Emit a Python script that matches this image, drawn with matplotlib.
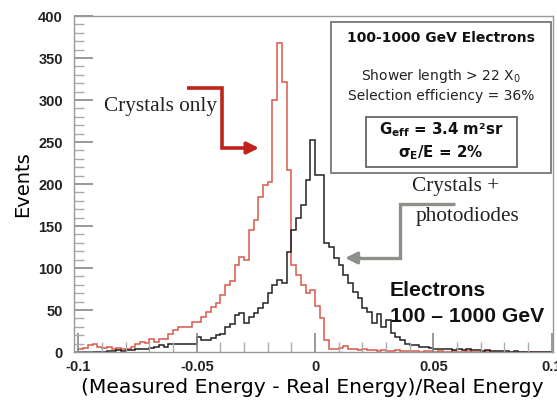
import numpy as np
import matplotlib
matplotlib.use("Agg")
import matplotlib.pyplot as plt
from matplotlib.patches import Rectangle
from matplotlib.ticker import MultipleLocator, FixedLocator

# ---- data ----
bin_edges = np.linspace(-0.1, 0.1, 101)

crystals_only = [
    3, 5, 8, 10, 6, 5, 6, 4, 5, 3,
    4, 6, 9, 12, 11, 15, 12, 16, 15, 22,
    26, 30, 30, 30, 36, 36, 42, 48, 54, 58,
    68, 80, 85, 104, 113, 110, 145, 157, 185, 199,
    202, 300, 368, 321, 217, 104, 92, 80, 70, 74,
    55, 40, 14, 4, 3, 5, 7, 4, 3, 2,
    3, 2, 2, 1, 2, 1, 1, 2, 1, 1,
    1, 1, 0, 1, 1, 0, 1, 0, 0, 1,
    0, 0, 1, 0, 0, 0, 1, 0, 0, 0,
    0, 0, 0, 0, 0, 0, 0, 0, 0, 0,
]

crystals_photodiodes = [
    0, 0, 0, 0, 0, 0, 1, 1, 2, 1,
    2, 2, 3, 4, 4, 5, 6, 8, 6, 10,
    10, 10, 10, 10, 10, 18, 14, 14, 17, 20,
    22, 30, 33, 44, 46, 35, 42, 46, 52, 58,
    70, 80, 86, 82, 119, 145, 160, 175, 205, 252,
    211, 211, 130, 125, 112, 104, 92, 82, 71, 64,
    52, 48, 35, 45, 30, 38, 23, 18, 14, 10,
    8, 8, 6, 6, 5, 4, 3, 3, 4, 2,
    3, 2, 3, 2, 2, 1, 2, 1, 1, 1,
    1, 0, 1, 0, 0, 0, 0, 0, 0, 0,
]

y_ticks = [0, 50, 100, 150, 200, 250, 300, 350, 400]
x_ticks = [-0.1, -0.05, 0, 0.05, 0.1]
x_tick_labels = ["-0.1", "-0.05", "0", "0.05", "0.1"]

# ---- figure ----
fig = plt.figure(figsize=(5.57, 4.03), dpi=100)
L, R, B, T = 74, 553, 352, 16
W, H = 557, 403
ax = fig.add_axes([L / W, 1 - B / H, (R - L) / W, (B - T) / H])

red = "#d8584c"
black = "#222222"
ax.stairs(crystals_only, bin_edges, color=red, linewidth=1.1)
ax.stairs(crystals_photodiodes, bin_edges, color=black, linewidth=1.1)

ax.set_xlim(-0.1019, 0.1006)
ax.set_ylim(0, 400)

for s in ax.spines.values():
    s.set_color("#999999")
    s.set_linewidth(1.0)

ax.yaxis.set_major_locator(FixedLocator(y_ticks))
ax.yaxis.set_minor_locator(MultipleLocator(10))
ax.xaxis.set_major_locator(FixedLocator(x_ticks))
ax.xaxis.set_minor_locator(MultipleLocator(0.01))
ax.set_xticklabels(x_tick_labels)
ax.tick_params(which="major", direction="in", length=14, width=1.2, color="#888888",
               labelsize=10.5, pad=6)
ax.tick_params(axis="y", which="major", pad=8)
ax.tick_params(which="minor", direction="in", length=7, width=1.0, color="#aaaaaa")
for lab in ax.get_xticklabels() + ax.get_yticklabels():
    lab.set_fontweight("bold")
    lab.set_family("Liberation Sans")
    lab.set_color("#222222")

ax.set_ylabel("Events", fontsize=14, family="DejaVu Sans")
ax.yaxis.set_label_coords(-0.088, 0.5)
ax.set_xlabel("(Measured Energy - Real Energy)/Real Energy", fontsize=14.6,
              family="DejaVu Sans")
ax.xaxis.set_label_coords(0.497, -0.078)

# ---- annotations ----
def dx(px):
    return (px - 315) / 2365.0

def dy(py):
    return (352 - py) / 0.84

# red arrow
ax.plot([dx(187), dx(222), dx(222), dx(250)], [dy(88), dy(88), dy(148), dy(148)],
        color="#c0231c", linewidth=2.6, solid_capstyle="butt", solid_joinstyle="miter")
ax.annotate("", xy=(dx(259), dy(148)), xytext=(dx(246), dy(148)),
            arrowprops=dict(arrowstyle="-|>,head_length=0.7,head_width=0.35",
                            color="#c0231c", linewidth=2.6, shrinkA=0, shrinkB=0))
ax.text(dx(160), dy(106), "Crystals only", family="Liberation Serif", fontsize=15.3,
        ha="center", va="center", color="#222222")

# gray arrow
gray = "#8c928a"
ax.plot([dx(455), dx(400), dx(400), dx(356)], [dy(204), dy(204), dy(258), dy(258)],
        color=gray, linewidth=2.4, solid_capstyle="butt", solid_joinstyle="miter")
ax.annotate("", xy=(dx(345), dy(258)), xytext=(dx(360), dy(258)),
            arrowprops=dict(arrowstyle="-|>,head_length=0.7,head_width=0.35",
                            color=gray, linewidth=2.4, shrinkA=0, shrinkB=0))
ax.text(dx(455), dy(186), "Crystals +", family="Liberation Serif", fontsize=15.3,
        ha="center", va="center", color="#222222")
ax.text(dx(467), dy(216), "photodiodes", family="Liberation Serif", fontsize=15.3,
        ha="center", va="center", color="#222222")

ax.text(dx(390), dy(291), "Electrons", family="Liberation Sans", fontweight="bold",
        fontsize=15.2, ha="left", va="center", color="#111111")
ax.text(dx(390), dy(316), "100 \u2013 1000 GeV", family="Liberation Sans", fontweight="bold",
        fontsize=15.2, ha="left", va="center", color="#111111")

# info box
ax.add_patch(Rectangle((dx(331), dy(173)), dx(551) - dx(331), dy(22) - dy(173),
                       facecolor="white", edgecolor="#777777", linewidth=1.3, zorder=3))
ax.add_patch(Rectangle((dx(366), dy(167)), dx(517) - dx(366), dy(117) - dy(167),
                       facecolor="white", edgecolor="#666666", linewidth=1.3, zorder=4))
cx = dx(441)
ax.text(cx, dy(38), "100-1000 GeV Electrons", fontweight="bold", fontsize=10,
        ha="center", va="center", zorder=5, color="#111111")
ax.text(cx, dy(76), "Shower length > 22 X$_0$", fontsize=10,
        ha="center", va="center", zorder=5, color="#222222")
ax.text(cx, dy(96), "Selection efficiency = 36%", fontsize=10,
        ha="center", va="center", zorder=5, color="#222222")
ax.text(cx, dy(130), "G$_{\\mathbf{eff}}$ = 3.4 m\u00b2sr", fontweight="bold", fontsize=10.8,
        ha="center", va="center", zorder=5, color="#111111")
ax.text(cx, dy(153), "\u03c3$_{\\mathbf{E}}$/E = 2%", fontweight="bold", fontsize=10.8,
        ha="center", va="center", zorder=5, color="#111111")

fig.savefig("out.png", dpi=100)
